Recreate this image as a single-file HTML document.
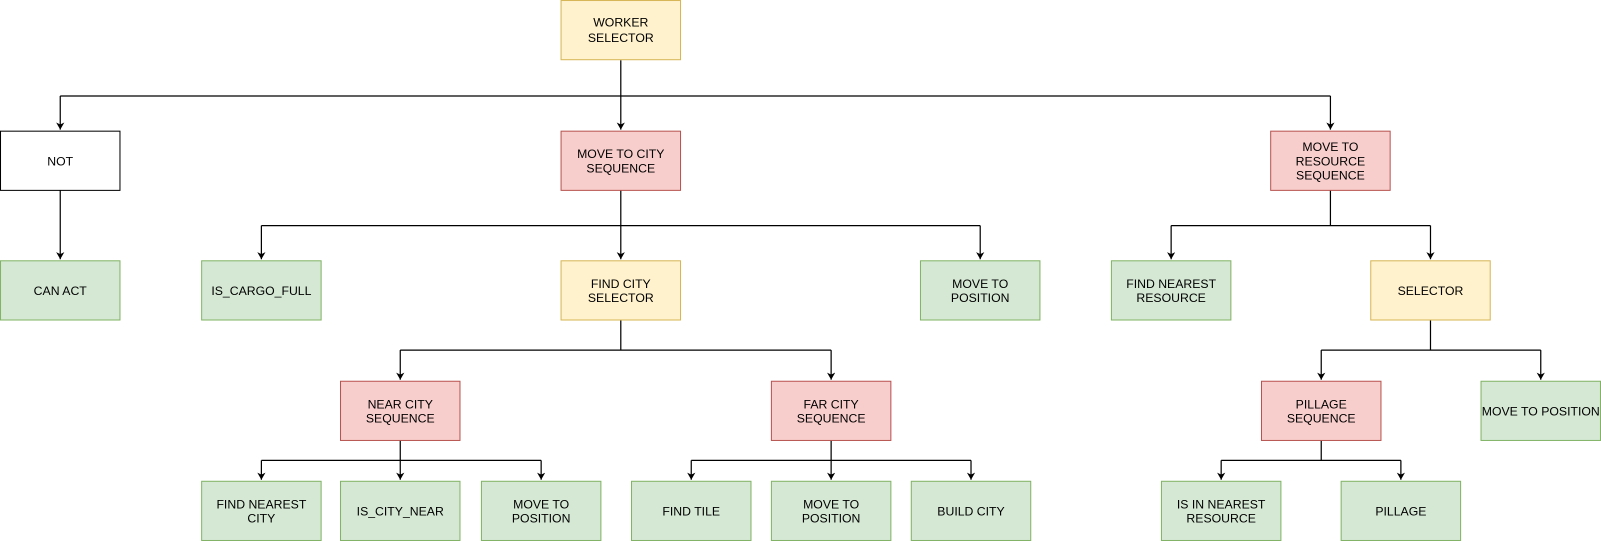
<!DOCTYPE html>
<html><head><meta charset="utf-8"><style>
html,body{margin:0;padding:0;background:#fff;width:1601px;height:541px;overflow:hidden}
svg{display:block}
text{font-family:"Liberation Sans",sans-serif;font-size:12px;fill:#000}
</style></head><body>
<svg width="1601" height="541" viewBox="0 0 1568 530" preserveAspectRatio="none" xmlns="http://www.w3.org/2000/svg">
<defs><marker id="a" markerWidth="9" markerHeight="9" refX="7" refY="4" orient="auto" markerUnits="userSpaceOnUse"><path d="M0,0 L7,4 L0,8 L2,4 Z" fill="#000"/></marker>
<style>.c{fill:none;stroke:#000;stroke-width:1.2}.y{fill:#fff2cc;stroke:#d6b656}.r{fill:#f8cecc;stroke:#b85450}.g{fill:#d5e8d4;stroke:#82b366}.w{fill:#fff;stroke:#000}</style></defs>
<g class="c">
<path d="M608,59 V94"/><path d="M59,94 H1303"/>
<path d="M59,94 V127" marker-end="url(#a)"/><path d="M608,94 V127" marker-end="url(#a)"/><path d="M1303,94 V127" marker-end="url(#a)"/>
<path d="M59,186 V254" marker-end="url(#a)"/>
<path d="M608,186 V221"/><path d="M256,221 H960"/>
<path d="M256,221 V254" marker-end="url(#a)"/><path d="M608,221 V254" marker-end="url(#a)"/><path d="M960,221 V254" marker-end="url(#a)"/>
<path d="M1303,186 V221"/><path d="M1147,221 H1401"/>
<path d="M1147,221 V254" marker-end="url(#a)"/><path d="M1401,221 V254" marker-end="url(#a)"/>
<path d="M608,313 V343"/><path d="M392,343 H814"/>
<path d="M392,343 V372" marker-end="url(#a)"/><path d="M814,343 V372" marker-end="url(#a)"/>
<path d="M1401,313 V343"/><path d="M1294,343 H1509"/>
<path d="M1294,343 V372" marker-end="url(#a)"/><path d="M1509,343 V372" marker-end="url(#a)"/>
<path d="M392,431 V451"/><path d="M256,451 H530"/>
<path d="M256,451 V470" marker-end="url(#a)"/><path d="M392,451 V470" marker-end="url(#a)"/><path d="M530,451 V470" marker-end="url(#a)"/>
<path d="M814,431 V451"/><path d="M677,451 H951"/>
<path d="M677,451 V470" marker-end="url(#a)"/><path d="M814,451 V470" marker-end="url(#a)"/><path d="M951,451 V470" marker-end="url(#a)"/>
<path d="M1294,431 V451"/><path d="M1196,451 H1372"/>
<path d="M1196,451 V470" marker-end="url(#a)"/><path d="M1372,451 V470" marker-end="url(#a)"/>
</g>
<rect class="y" x="549.5" y="0.5" width="117" height="58"/>
<text x="608" y="26" text-anchor="middle">WORKER</text><text x="608" y="41" text-anchor="middle">SELECTOR</text>
<rect class="w" x="0.5" y="128.5" width="117" height="58"/>
<text x="59" y="162" text-anchor="middle">NOT</text>
<rect class="r" x="549.5" y="128.5" width="117" height="58"/>
<text x="608" y="155" text-anchor="middle">MOVE TO CITY</text><text x="608" y="169" text-anchor="middle">SEQUENCE</text>
<rect class="r" x="1244.5" y="128.5" width="117" height="58"/>
<text x="1303" y="148" text-anchor="middle">MOVE TO</text><text x="1303" y="162" text-anchor="middle">RESOURCE</text><text x="1303" y="176" text-anchor="middle">SEQUENCE</text>
<rect class="g" x="0.5" y="255.5" width="117" height="58"/>
<text x="59" y="289" text-anchor="middle">CAN ACT</text>
<rect class="g" x="197.5" y="255.5" width="117" height="58"/>
<text x="256" y="289" text-anchor="middle">IS_CARGO_FULL</text>
<rect class="y" x="549.5" y="255.5" width="117" height="58"/>
<text x="608" y="282" text-anchor="middle">FIND CITY</text><text x="608" y="296" text-anchor="middle">SELECTOR</text>
<rect class="g" x="901.5" y="255.5" width="117" height="58"/>
<text x="960" y="282" text-anchor="middle">MOVE TO</text><text x="960" y="296" text-anchor="middle">POSITION</text>
<rect class="g" x="1088.5" y="255.5" width="117" height="58"/>
<text x="1147" y="282" text-anchor="middle">FIND NEAREST</text><text x="1147" y="296" text-anchor="middle">RESOURCE</text>
<rect class="y" x="1342.5" y="255.5" width="117" height="58"/>
<text x="1401" y="289" text-anchor="middle">SELECTOR</text>
<rect class="r" x="333.5" y="373.5" width="117" height="58"/>
<text x="392" y="400" text-anchor="middle">NEAR CITY</text><text x="392" y="414" text-anchor="middle">SEQUENCE</text>
<rect class="r" x="755.5" y="373.5" width="117" height="58"/>
<text x="814" y="400" text-anchor="middle">FAR CITY</text><text x="814" y="414" text-anchor="middle">SEQUENCE</text>
<rect class="r" x="1235.5" y="373.5" width="117" height="58"/>
<text x="1294" y="400" text-anchor="middle">PILLAGE</text><text x="1294" y="414" text-anchor="middle">SEQUENCE</text>
<rect class="g" x="1450.5" y="373.5" width="117" height="58"/>
<text x="1509" y="407" text-anchor="middle">MOVE TO POSITION</text>
<rect class="g" x="197.5" y="471.5" width="117" height="58"/>
<text x="256" y="498" text-anchor="middle">FIND NEAREST</text><text x="256" y="512" text-anchor="middle">CITY</text>
<rect class="g" x="333.5" y="471.5" width="117" height="58"/>
<text x="392" y="505" text-anchor="middle">IS_CITY_NEAR</text>
<rect class="g" x="471.5" y="471.5" width="117" height="58"/>
<text x="530" y="498" text-anchor="middle">MOVE TO</text><text x="530" y="512" text-anchor="middle">POSITION</text>
<rect class="g" x="618.5" y="471.5" width="117" height="58"/>
<text x="677" y="505" text-anchor="middle">FIND TILE</text>
<rect class="g" x="755.5" y="471.5" width="117" height="58"/>
<text x="814" y="498" text-anchor="middle">MOVE TO</text><text x="814" y="512" text-anchor="middle">POSITION</text>
<rect class="g" x="892.5" y="471.5" width="117" height="58"/>
<text x="951" y="505" text-anchor="middle">BUILD CITY</text>
<rect class="g" x="1137.5" y="471.5" width="117" height="58"/>
<text x="1196" y="498" text-anchor="middle">IS IN NEAREST</text><text x="1196" y="512" text-anchor="middle">RESOURCE</text>
<rect class="g" x="1313.5" y="471.5" width="117" height="58"/>
<text x="1372" y="505" text-anchor="middle">PILLAGE</text>
</svg>
</body></html>
